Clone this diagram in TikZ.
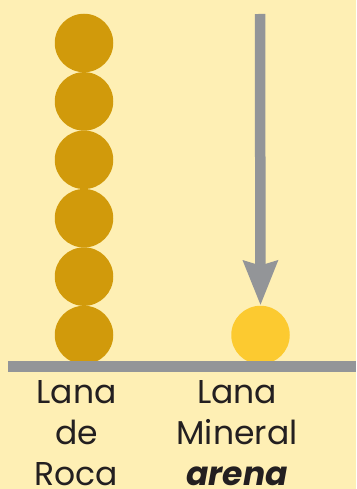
\documentclass[tikz,border=0pt]{standalone}
\usepackage{fontspec}
\setmainfont{Poppins}
\usetikzlibrary{arrows.meta}
\definecolor{creamyellow}{RGB}{254,239,180}
\definecolor{rockgold}{RGB}{209,154,11}
\definecolor{sandyellow}{RGB}{252,202,48}
\definecolor{railgray}{RGB}{147,149,152}
\definecolor{labelblack}{RGB}{35,31,32}

\begin{document}
\begin{tikzpicture}[x=1pt,y=-1pt,
  bead/.style={circle,minimum size=58.5pt,inner sep=0pt,fill=#1},
  rail/.style={draw=railgray,line width=10.5pt},
  pointer/.style={draw=railgray,line width=10.5pt,-{Stealth[length=44pt,width=33pt,inset=4pt]}},
  caption/.style={anchor=north,inner sep=0pt,align=center,text=labelblack,font=\fontsize{33}{41}\selectfont}]
% Draw the background
\fill[creamyellow] (0,0) rectangle (356,489);
\useasboundingbox (0,0) rectangle (356,489);
% Draw the stack of rock wool beads
\foreach \i in {0,...,5}
  \node[bead=rockgold] (rock\i) at (84,43+58.4*\i) {};
% Draw the mineral wool bead
\node[bead=sandyellow] (sand) at (260.5,335) {};
% Draw the falling arrow
\coordinate (droptop) at (260,14);
\draw[pointer] (droptop) -- (sand.north);
% Draw the floor
\coordinate (floorleft) at (8,366.3);
\coordinate (floorright) at (356,366.3);
\draw[rail] (floorleft) -- (floorright);
% Labels
\node[caption] (rocklabel) at (76.5,380) {Lana\\de\\Roca};
\node[caption] (sandlabel) at (237,380) {Lana\\Mineral\\\textbf{\textit{arena}}};
\end{tikzpicture}
\end{document}
